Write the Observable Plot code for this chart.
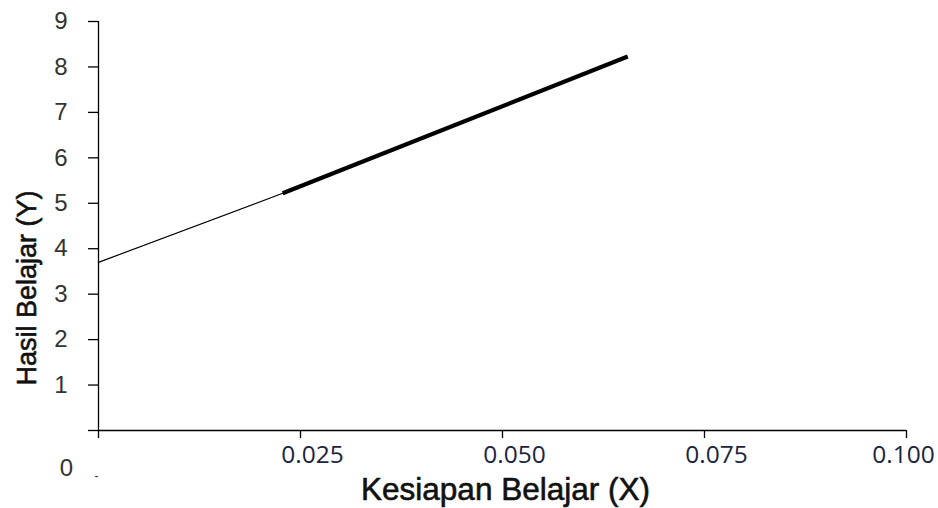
<!DOCTYPE html>
<html>
<head>
<meta charset="utf-8">
<script src="https://cdn.jsdelivr.net/npm/d3@7"></script>
<script src="https://cdn.jsdelivr.net/npm/@observablehq/plot@0.6"></script>
<style>
  html, body { margin: 0; padding: 0; background: #fff; }
</style>
</head>
<body>
<div id="chart"></div>
<script>
// Data
const thinX = [0, 0.0228];
const thinY = [3.70, 5.22];
const thickX = [0.0228, 0.0655];
const thickY = [5.22, 8.23];
const yTicks = [0, 1, 2, 3, 4, 5, 6, 7, 8, 9];
const xTicks = [0, 0.025, 0.050, 0.075, 0.100];
const xLabelsMain = [0.025, 0.050, 0.075];
const xLabelsLast = [0.100];
const xTitle = "Kesiapan Belajar (X)";
const yTitle = "Hasil Belajar (Y)";

const thin = thinX.map((x, i) => ({x, y: thinY[i]}));
const thick = thickX.map((x, i) => ({x, y: thickY[i]}));
const fmt = d3.format(".3f");
const tickFont = "'Open Sans', 'Noto Sans', sans-serif";
const yFont = "'Liberation Sans', Arial, sans-serif";

const chart = Plot.plot({
  width: 938,
  height: 508,
  marginLeft: 98,
  marginRight: 32,
  marginTop: 21,
  marginBottom: 78,
  style: {background: "#fff", color: "#000"},
  x: {type: "linear", domain: [0, 0.1], axis: null},
  y: {type: "linear", domain: [0, 9], axis: null},
  marks: [
    Plot.ruleX([0], {y1: 0, y2: 9, stroke: "#000", strokeWidth: 1.3}),
    Plot.ruleY([0], {x1: 0, x2: 0.1, stroke: "#000", strokeWidth: 1.3}),
    Plot.axisY(yTicks, {
      label: null,
      tickSize: 10, tickPadding: 21, stroke: "#000", strokeWidth: 1.3,
      tickFormat: d => d === 0 ? "" : String(d),
      fontSize: 24, fontFamily: yFont, fill: "#333"
    }),
    Plot.axisX(xTicks, {
      label: null,
      tickSize: 8, stroke: "#000", strokeWidth: 1.3,
      tickFormat: () => ""
    }),
    Plot.text(xLabelsMain, {x: d => d, frameAnchor: "bottom", dx: 12, dy: 32,
      text: d => fmt(d), fontSize: 24.5, fontFamily: tickFont, fill: "#1c2540"}),
    Plot.text(xLabelsLast, {x: d => d, frameAnchor: "bottom", dx: -3, dy: 32,
      text: d => fmt(d), fontSize: 24.5, fontFamily: tickFont, fill: "#1c2540"}),
    Plot.text(["0"], {x: () => 0, y: () => 0, dx: -32, dy: 38, fontSize: 24, fill: "#333",
      fontFamily: yFont}),
    Plot.text(["-"], {x: () => 0, y: () => 0, dx: -2, dy: 46, fontSize: 12, fill: "#333",
      fontFamily: yFont}),
    Plot.line(thin, {x: "x", y: "y", stroke: "#000", strokeWidth: 1.2}),
    Plot.line(thick, {x: "x", y: "y", stroke: "#000", strokeWidth: 4.2, strokeLinecap: "butt"}),
    Plot.text([yTitle], {frameAnchor: "left", textAnchor: "middle", rotate: -90, dx: -71, dy: 62,
      fontSize: 27, fill: "#111", stroke: "#111", strokeWidth: 0.6, fontFamily: yFont}),
    Plot.text([xTitle], {frameAnchor: "bottom", dx: 3, dy: 69,
      fontSize: 31.5, fill: "#111", stroke: "#111", strokeWidth: 0.6, fontFamily: yFont})
  ]
});
document.getElementById("chart").appendChild(chart);
</script>
</body>
</html>
